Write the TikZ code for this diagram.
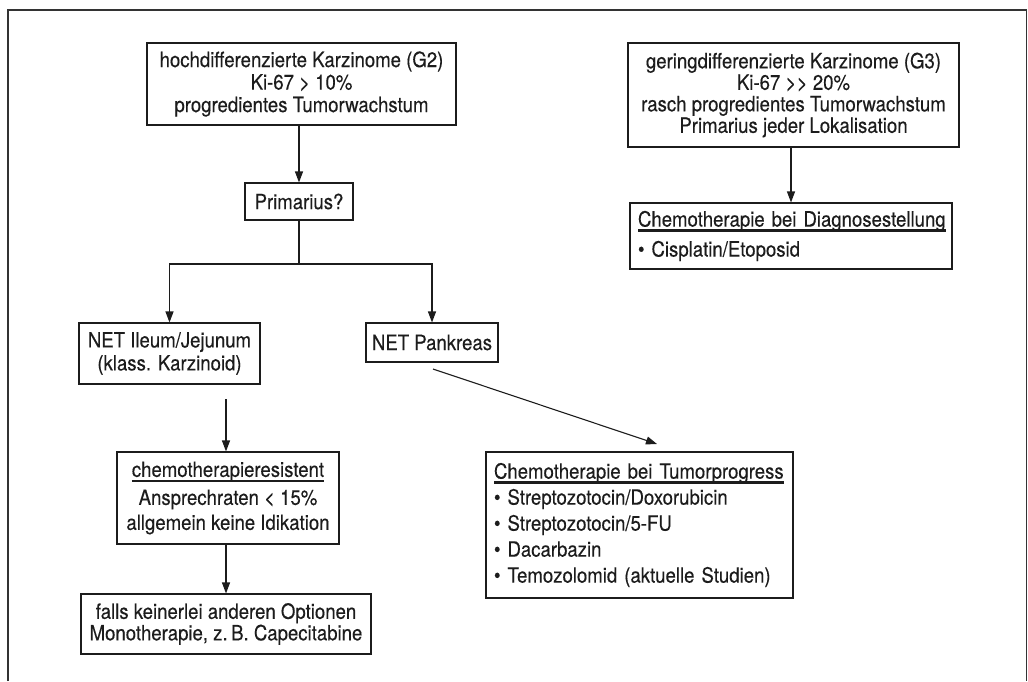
\documentclass[tikz,border=0pt]{standalone}
\usepackage{fontspec}
\setmainfont{TeX Gyre Heros}[FakeStretch=0.885, FakeBold=0.3]
\usetikzlibrary{arrows.meta}
\definecolor{ink}{HTML}{1C1C1C}
\newsavebox{\headbox}
% heading text with a heavy rule beneath it
\newcommand{\ulhead}[1]{\sbox{\headbox}{#1}\leavevmode\rlap{\raisebox{-5pt}{\color{ink}\rule{\wd\headbox}{2.2pt}}}\usebox{\headbox}}

\begin{document}
\begin{tikzpicture}[x=1pt, y=-1pt,
  box/.style={draw=ink, line width=1.1pt, rectangle, inner sep=0pt, text=ink,
              align=center, font=\fontsize{21}{22.5}\selectfont},
  lbox/.style={box, align=left, inner xsep=8pt},
  arr/.style={draw=ink, line width=1.1pt, -{Triangle[length=11pt,width=8pt]}},
  frame/.style={draw=ink!90, line width=1.4pt}]
\useasboundingbox (0,0) rectangle (1028,681);

% open frame around the chart
\draw[frame] (8,681) -- (8,10) -- (1026.5,10) -- (1026.5,681);

% left branch: G2 tumours
\node[box, minimum width=309pt, minimum height=82pt] (g2) at (301.5,84)
  {hochdifferenzierte Karzinome (G2)\\ Ki-67 \mbox{>} 10\%\\ progredientes Tumorwachstum};
\node[box, minimum width=108pt, minimum height=37pt] (prim) at (299,201.5) {Primarius?};
\node[box, minimum width=181pt, minimum height=61pt, font=\fontsize{21}{23}\selectfont] (ileum) at (169.5,353.5)
  {NET Ileum/Jejunum\\ (klass. Karzinoid)};
\node[box, minimum width=132pt, minimum height=39pt] (pank) at (432,342.5) {NET Pankreas};
\node[box, minimum width=222pt, minimum height=92pt, font=\fontsize{21}{25}\selectfont] (resist) at (228,498)
  {\ulhead{chemotherapieresistent}\\[3pt] Ansprechraten \mbox{<} 15\%\\ allgemein keine Idikation};
\node[box, minimum width=290pt, minimum height=60pt, font=\fontsize{21}{21.5}\selectfont] (mono) at (226,624)
  {falls keinerlei anderen Optionen\\ Monotherapie, z.\,B. Capecitabine};
\node[lbox, text width=291pt, minimum height=146pt, font=\fontsize{21}{26}\selectfont] (progress) at (639.5,525)
  {\ulhead{Chemotherapie bei Tumorprogress}\\
   \textbullet\ Streptozotocin/Doxorubicin\\
   \textbullet\ Streptozotocin/5-FU\\
   \textbullet\ Dacarbazin\\
   \textbullet\ Temozolomid (aktuelle Studien)};

% right branch: G3 tumours
\node[box, minimum width=331pt, minimum height=104pt, font=\fontsize{21}{21.5}\selectfont] (g3) at (793.5,95)
  {geringdifferenzierte Karzinome (G3)\\ Ki-67 \mbox{>}\kern0.5pt\mbox{>} 20\%\\ rasch progredientes Tumorwachstum\\ Primarius jeder Lokalisation};
\node[lbox, text width=306pt, minimum height=66pt, font=\fontsize{21}{26}\selectfont] (diag) at (791,236)
  {\ulhead{Chemotherapie bei Diagnosestellung}\\[4pt]
   \textbullet\ Cisplatin/Etoposid};

% free ends of the detached connectors
\coordinate (fork) at (299,264);
\coordinate (ileumout) at (226,399);
\coordinate (pankout) at (433,369);
\coordinate (progin) at (657,444);

% connectors
\draw[arr] (g2.south -| prim.north) -- (prim.north);
\draw[draw=ink, line width=1.1pt] (prim.south) -- (fork);
\draw[arr] (fork) -| (ileum.north);
\draw[arr] (fork) -| (pank.north);
\draw[arr] (ileumout) -- (ileumout |- resist.north);
\draw[arr] (resist.south -| mono.north) -- (mono.north);
\draw[arr] (pankout) -- (progin);
\draw[arr] (g3.south -| diag.north) -- (diag.north);
\end{tikzpicture}
\end{document}
